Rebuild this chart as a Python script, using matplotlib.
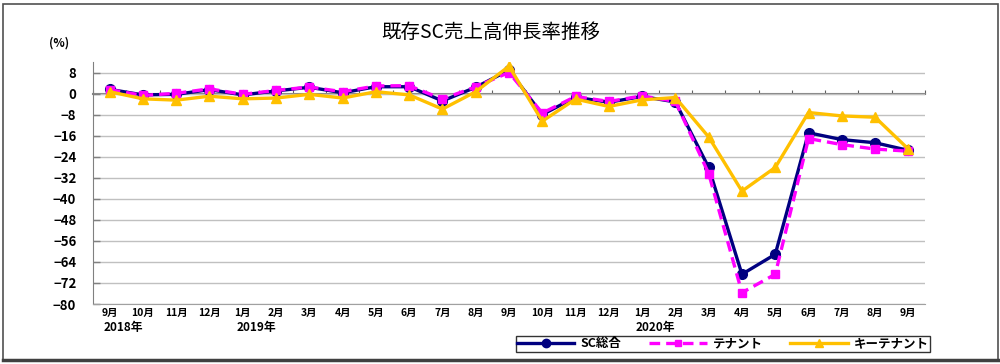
import numpy as np
import matplotlib
matplotlib.use("Agg")
import matplotlib.pyplot as plt
from matplotlib.patches import Rectangle
from matplotlib.lines import Line2D

plt.rcParams['font.family'] = ['Noto Sans CJK JP', 'DejaVu Sans']

# ---- data ----
months = ["9月", "10月", "11月", "12月", "1月", "2月", "3月", "4月", "5月", "6月", "7月", "8月",
          "9月", "10月", "11月", "12月", "1月", "2月", "3月", "4月", "5月", "6月", "7月", "8月", "9月"]
year_labels = ["2018年", "2019年", "2020年"]
year_idx = [0, 4, 16]

sc_total = [1.6, -0.5, -0.3, 1.5, -0.5, 1.0, 2.4, 0.3, 2.6, 2.6, -2.8, 2.4, 8.9,
            -8.0, -1.4, -3.3, -1.1, -3.2, -28.1, -68.7, -61.1, -14.9, -17.5, -18.7, -21.6]
tenant = [1.5, -0.7, 0.1, 1.8, -0.3, 1.2, 2.5, 0.7, 2.9, 3.0, -2.1, 2.6, 8.0,
          -7.4, -1.1, -3.0, -0.9, -3.0, -30.4, -75.7, -68.7, -17.1, -19.4, -21.1, -21.9]
key_tenant = [0.7, -2.0, -2.5, -1.0, -2.0, -1.7, -0.3, -1.7, 0.7, -0.5, -5.9, 0.7, 10.4,
              -10.5, -2.1, -4.9, -2.4, -1.5, -16.5, -37.1, -28.1, -7.2, -8.5, -9.0, -21.1]

series_names = ["SC総合", "テナント", "キーテナント"]
title = "既存SC売上高伸長率推移"
yticks = list(range(-80, 9, 8))

# ---- figure ----
W, H = 1000, 364
fig = plt.figure(figsize=(W / 100, H / 100), dpi=100)
ax = fig.add_axes([93 / W, 1 - 304 / H, 832 / W, 242 / H])

x = np.arange(len(months))
ax.plot(x, sc_total, color='#000080', lw=2.4, marker='o', ms=7, mec='#000080', mfc='#000080', zorder=3)
ax.plot(x, tenant, color='#ff00ff', lw=2.4, ls=(0, (3.2, 1.8)), marker='s', ms=6, mec='#ff00ff',
        mfc='#ff00ff', zorder=4)
ax.plot(x, key_tenant, color='#ffc000', lw=2.4, marker='^', ms=7, mec='#ffc000', mfc='#ffc000', zorder=5)

ax.set_xlim(-0.5, len(months) - 0.5)
ax.set_ylim(-80, 12)
ax.set_yticks(yticks)
ax.grid(axis='y', color='#c0c0c0', lw=1.0)
ax.set_axisbelow(True)
for s in ['top', 'right']:
    ax.spines[s].set_visible(False)
ax.spines['left'].set_color('#808080')
ax.spines['bottom'].set_color('#a0a0a0')
ax.tick_params(axis='y', direction='in', length=5, color='#808080', width=1,
               labelsize=9.5, pad=12)
for lab in ax.get_yticklabels():
    lab.set_fontweight('bold')
ax.set_xticks(x)
ax.set_xticklabels(months, fontsize=7.5, fontweight='bold')
ax.tick_params(axis='x', length=0, pad=3)

# zero-line category axis with boundary ticks
sec = ax.secondary_xaxis(80 / 92)
sec.spines['top'].set_color('#808080')
sec.spines['top'].set_linewidth(1.5)
sec.spines['bottom'].set_visible(False)
sec.set_xticks(np.arange(-0.5, len(months), 1.0))
sec.tick_params(direction='out', length=3, color='#606060', labeltop=False, labelbottom=False)

# year labels
for yl, yi in zip(year_labels, year_idx):
    ax.annotate(yl, xy=(yi + 0.4, 0), xycoords=('data', 'axes fraction'),
                xytext=(0, -12.5), textcoords='offset points', ha='center', va='top',
                fontsize=8.5, fontweight='bold')

fig.text(59 / W, 1 - 43 / H, "(%)", ha='center', va='center', fontsize=8.5, fontweight='bold')
fig.text(491 / W, 1 - 32 / H, title, ha='center', va='center', fontsize=14)

# legend
handles = [
    Line2D([], [], color='#000080', lw=2.4, marker='o', ms=6),
    Line2D([], [], color='#ff00ff', lw=2.4, ls=(0, (3.2, 1.8)), marker='s', ms=5),
    Line2D([], [], color='#ffc000', lw=2.4, marker='^', ms=6),
]
leg = fig.legend(handles, series_names, loc='center', bbox_to_anchor=(723 / W, 1 - 344 / H),
                 ncol=3, fontsize=9, handlelength=4.6, handletextpad=0.5, columnspacing=2.2,
                 borderpad=0.1, frameon=True, fancybox=False, edgecolor='black')
leg.get_frame().set_linewidth(1.0)
for t in leg.get_texts():
    t.set_fontweight('bold')

# outer frame
fig.patches.append(Rectangle((3 / W, 1 - 360 / H), 995 / W, 356 / H, transform=fig.transFigure,
                             fill=False, edgecolor='#505050', lw=1.2))
fig.add_artist(Line2D([3 / W, 998 / W], [1 - 360 / H, 1 - 360 / H], transform=fig.transFigure,
                      color='#404040', lw=2.5))

fig.savefig("out.png", dpi=100)
